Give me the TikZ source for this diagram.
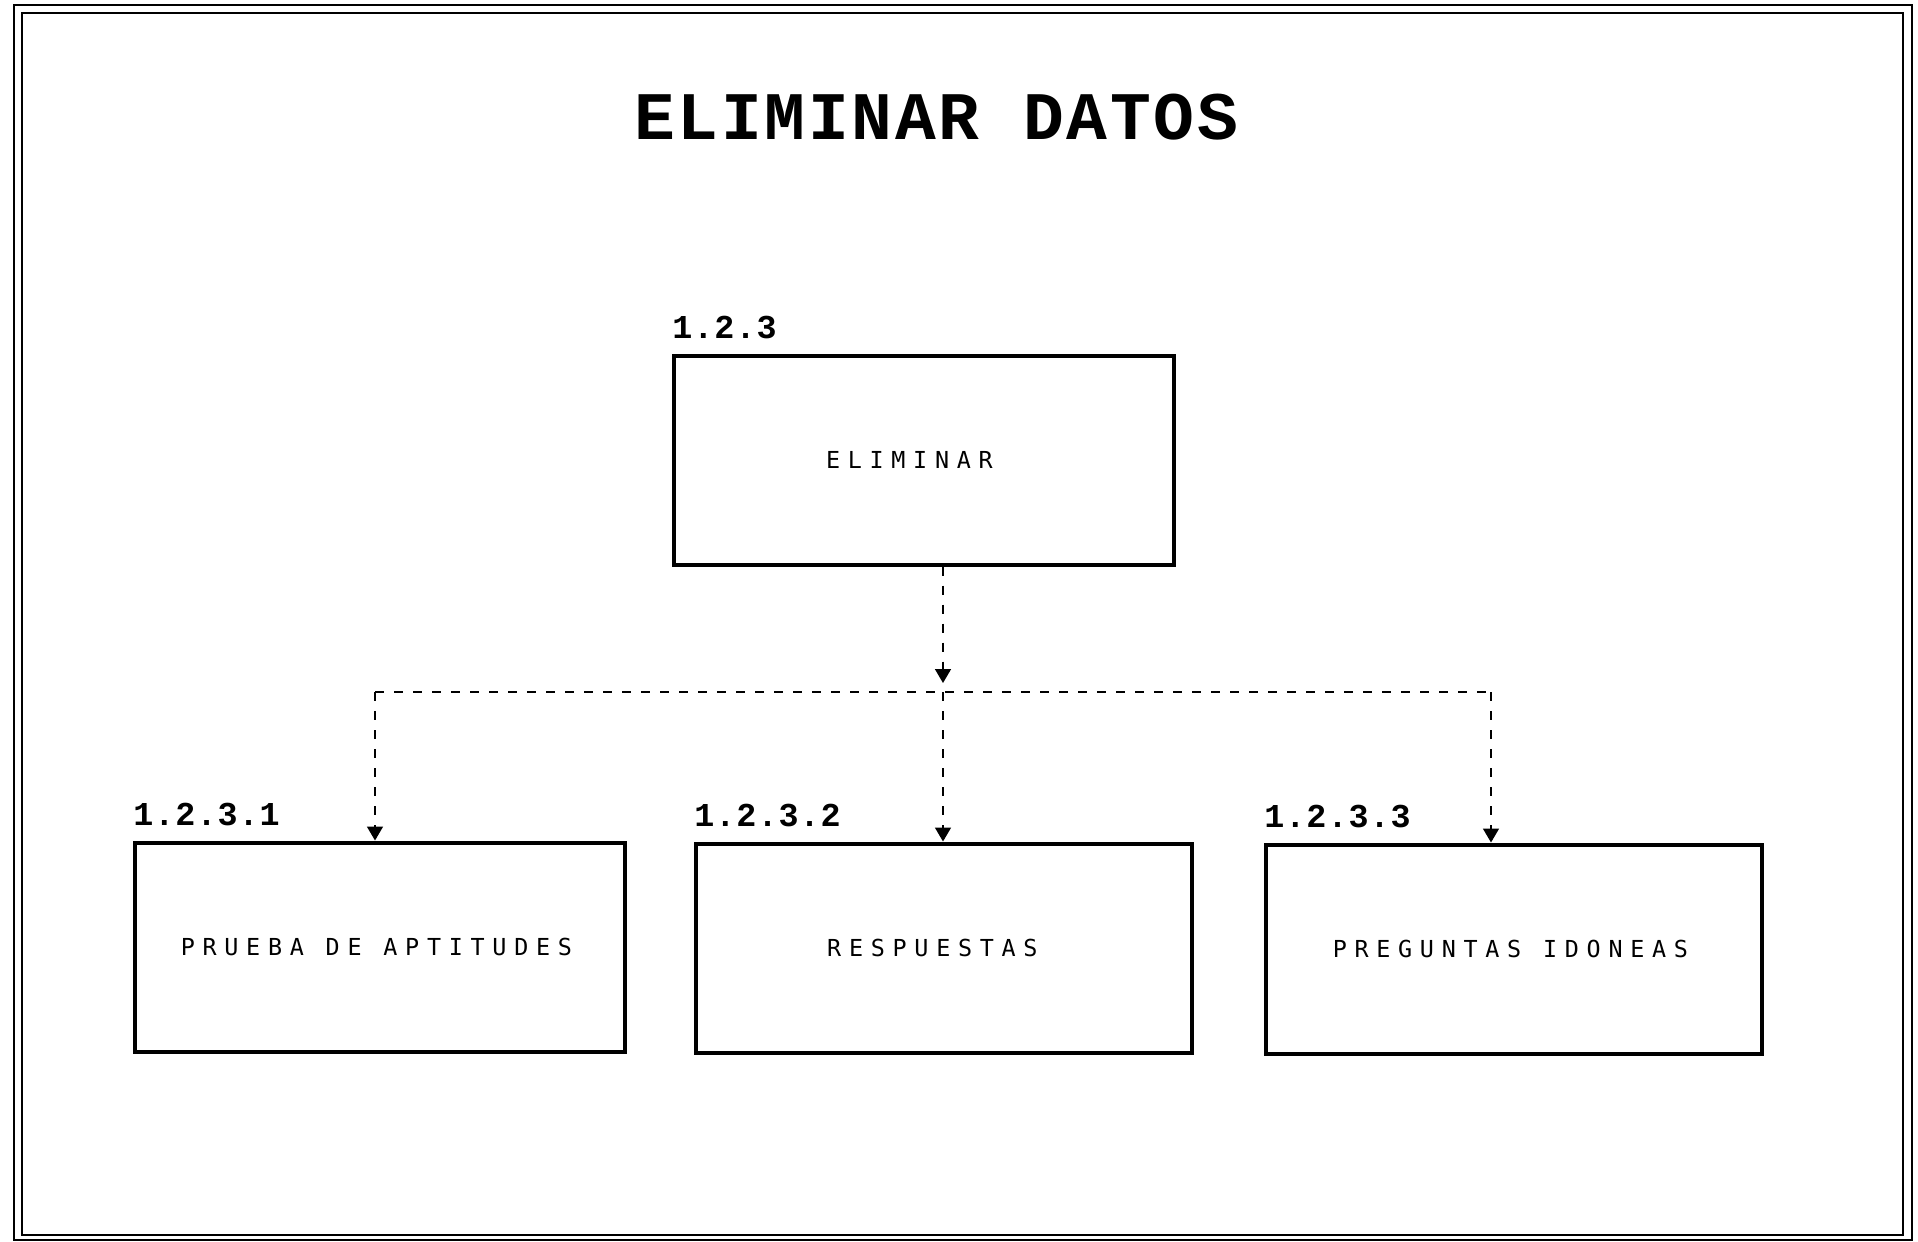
\documentclass[tikz,border=0pt]{standalone}
\usepackage{fontspec}
\newfontfamily\titlefont[LetterSpace=4]{Liberation Mono}
\newfontfamily\idfont[LetterSpace=3]{Liberation Mono}
\newfontfamily\boxfont[LetterSpace=33]{DejaVu Sans Mono}
\usetikzlibrary{positioning, calc}
\usetikzlibrary{arrows.meta}

\tikzset{
  frameline/.style={line width=1.1pt},
  titletext/.style={inner sep=0pt, font=\titlefont\bfseries\fontsize{34}{40}\selectfont},
  procbox/.style={draw, line width=2pt, minimum width=248pt, minimum height=104.5pt,
    inner sep=0pt},
  boxtext/.style={inner sep=0pt, font=\boxfont\fontsize{11.7}{14}\selectfont},
  boxid/.style={inner sep=0pt, font=\idfont\bfseries\fontsize{16.7}{20}\selectfont},
  flowline/.style={line width=0.8pt, dash pattern=on 4.5pt off 5pt},
  flowarrow/.style={flowline, -{Triangle[width=8pt,length=7pt]}}
}

\begin{document}
\begin{tikzpicture}[x=0.5pt, y=-0.5pt]
\useasboundingbox (0,0) rectangle (1918,1242);

% double frame
\draw[frameline] (14,5) rectangle (1912,1240);
\draw[frameline] (22,13) rectangle (1903,1235);

\node[titletext] (title) at (936,117) {ELIMINAR DATOS};

% processes
\node[procbox, minimum width=250pt,
  label={[boxtext, xshift=-7.3pt]center:ELIMINAR}] (elim) at (924,460) {};
\node[boxid, above right=7pt and 0pt of elim.north west] (elim-id) {1.2.3};

\node[procbox, minimum width=245pt,
  label={[boxtext, xshift=-1.8pt]center:PRUEBA DE APTITUDES}] (prueba) at (380,947) {};
\node[boxid, above right=7pt and 0pt of prueba.north west] (prueba-id) {1.2.3.1};

\node[procbox,
  label={[boxtext, xshift=-5.8pt]center:RESPUESTAS}] (resp) at (944,948) {};
\node[boxid, above right=7pt and 0pt of resp.north west] (resp-id) {1.2.3.2};

\node[procbox,
  label={[boxtext, xshift=-1.8pt]center:PREGUNTAS IDONEAS}] (preg) at (1514,949) {};
\node[boxid, above right=7pt and 0pt of preg.north west] (preg-id) {1.2.3.3};

% connectors
\coordinate (split) at (943,692);
\coordinate (split-tip) at (943,683);
\coordinate (prueba-in) at (375,692);
\coordinate (preg-in) at (1491,692);

\draw[flowarrow] (split |- elim.south) -- (split-tip);
\draw[flowline] (prueba-in) -- (preg-in);
\draw[flowarrow] (prueba-in) -- (prueba-in |- prueba.north);
\draw[flowarrow] (split) -- (split |- resp.north);
\draw[flowarrow] (preg-in) -- (preg-in |- preg.north);
\end{tikzpicture}
\end{document}
